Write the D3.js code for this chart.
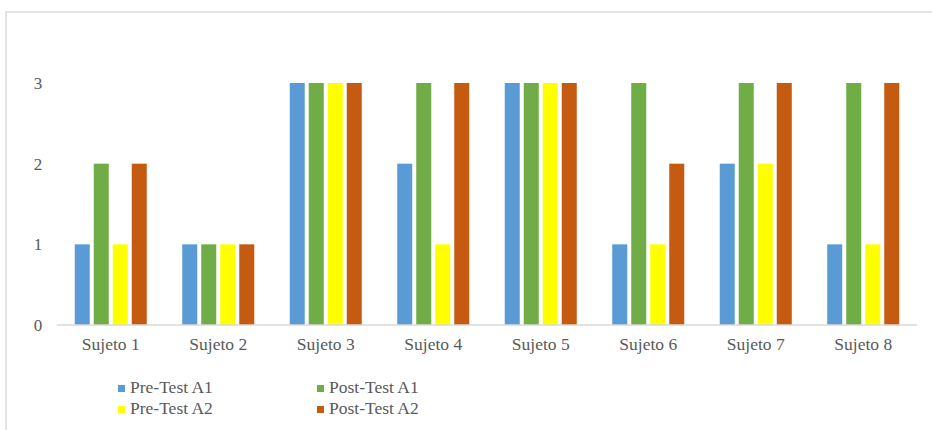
<!DOCTYPE html>
<html>
<head>
<meta charset="utf-8">
<script src="https://cdn.jsdelivr.net/npm/d3@7"></script>
<style>
  html, body { margin: 0; padding: 0; background: #fff; }
  svg { display: block; }
</style>
</head>
<body>
<svg id="chart" width="932" height="430"></svg>
<script>
const categories = ["Sujeto 1", "Sujeto 2", "Sujeto 3", "Sujeto 4", "Sujeto 5", "Sujeto 6", "Sujeto 7", "Sujeto 8"];
const seriesNames = ["Pre-Test A1", "Post-Test A1", "Pre-Test A2", "Post-Test A2"];
const preTestA1  = [1, 1, 3, 2, 3, 1, 2, 1];
const postTestA1 = [2, 1, 3, 3, 3, 3, 3, 3];
const preTestA2  = [1, 1, 3, 1, 3, 1, 2, 1];
const postTestA2 = [2, 1, 3, 3, 3, 2, 3, 3];
const yTicks = [0, 1, 2, 3];
const colors = ["#5B9BD5", "#70AD47", "#FFFF00", "#C55A11"];

const seriesValues = [preTestA1, postTestA1, preTestA2, postTestA2];
const FONT = "'Liberation Serif', 'DejaVu Serif', serif";

const svg = d3.select("#chart")
  .attr("font-family", FONT);

// chart-area frame
svg.append("line").attr("x1", 5).attr("x2", 932).attr("y1", 12).attr("y2", 12)
  .attr("stroke", "#e4e4e4").attr("stroke-width", 2);
svg.append("line").attr("x1", 6).attr("x2", 6).attr("y1", 11).attr("y2", 430)
  .attr("stroke", "#e4e4e4").attr("stroke-width", 2);

const x0 = d3.scaleBand().domain(categories).range([57, 917])
  .paddingInner(0.33).paddingOuter(0.165);
const x1 = d3.scaleBand().domain(seriesNames).range([0, x0.bandwidth()])
  .paddingInner(0.21).paddingOuter(0);
const y = d3.scaleLinear().domain([0, 3]).range([325, 83]);

// bars
const groups = svg.append("g").selectAll("g")
  .data(categories)
  .join("g")
  .attr("transform", d => `translate(${x0(d)},0)`);

groups.selectAll("rect")
  .data((c, i) => seriesNames.map((s, j) => ({ s, j, v: seriesValues[j][i] })))
  .join("rect")
  .attr("x", d => x1(d.s))
  .attr("width", x1.bandwidth())
  .attr("y", d => y(d.v))
  .attr("height", d => y(0) - y(d.v))
  .attr("fill", d => colors[d.j]);

// baseline
svg.append("line").attr("x1", 57).attr("x2", 917).attr("y1", y(0)).attr("y2", y(0))
  .attr("stroke", "#d9d9d9").attr("stroke-width", 1.5);

// y tick labels
svg.append("g").selectAll("text")
  .data(yTicks)
  .join("text")
  .attr("x", 38)
  .attr("y", d => y(d))
  .attr("dy", "0.35em")
  .attr("text-anchor", "middle")
  .attr("font-family", FONT)
  .attr("font-size", 17)
  .attr("fill", "#595959")
  .text(d => d);

// category labels
svg.append("g").selectAll("text")
  .data(categories)
  .join("text")
  .attr("x", d => x0(d) + x0.bandwidth() / 2)
  .attr("y", 350)
  .attr("text-anchor", "middle")
  .attr("font-family", FONT)
  .attr("font-size", 17.5)
  .attr("fill", "#595959")
  .text(d => d);

// legend
const legendPos = [
  { x: 118, y: 385 }, { x: 317, y: 385 },
  { x: 118, y: 406 }, { x: 317, y: 406 }
];
const legend = svg.append("g").selectAll("g")
  .data(seriesNames)
  .join("g")
  .attr("transform", (d, i) => `translate(${legendPos[i].x},${legendPos[i].y})`);
legend.append("rect").attr("width", 7).attr("height", 7)
  .attr("fill", (d, i) => colors[i]);
legend.append("text").attr("x", 12).attr("y", 7.5)
  .attr("font-family", FONT)
  .attr("font-size", 17.5)
  .attr("fill", "#595959")
  .text(d => d);
</script>
</body>
</html>
